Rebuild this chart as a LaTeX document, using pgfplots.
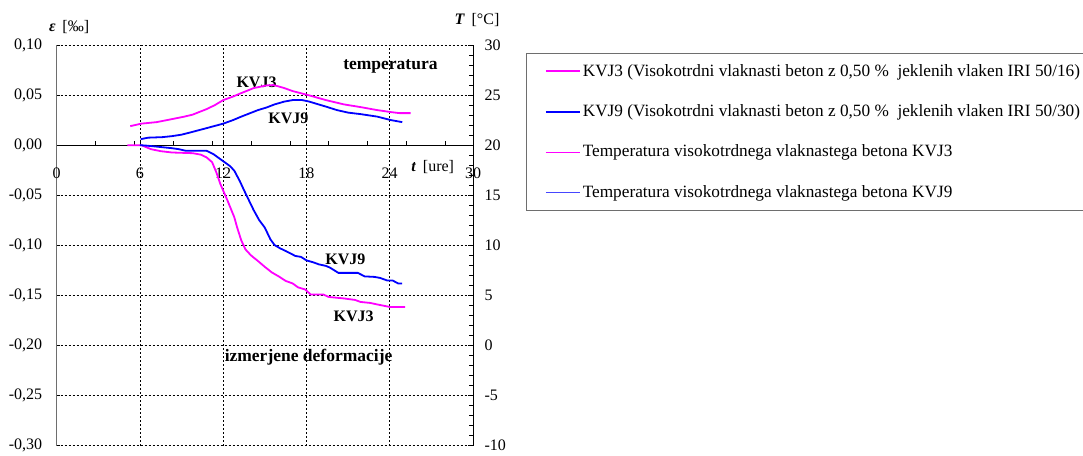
\documentclass[border=0pt]{standalone}
\usepackage{fontspec}
\setmainfont{Liberation Serif}
\usepackage{pgfplots}
\pgfplotsset{compat=1.18}
\definecolor{mag}{RGB}{255,0,255}
\definecolor{blu}{RGB}{0,0,255}
\definecolor{lblu}{RGB}{70,70,255}
\definecolor{axgray}{RGB}{110,110,110}
\newcommand{\tfont}{\fontsize{16}{19}\selectfont}
\newcommand{\lfont}{\fontsize{17.25}{20}\selectfont}

\begin{document}
\tfont
\begin{tikzpicture}
\useasboundingbox (0pt,0pt) rectangle (1083pt,455pt);
\begin{axis}[
  at={(56.7pt,9.3pt)}, anchor=south west,
  scale only axis, width=416.3pt, height=400.7pt,
  xmin=0, xmax=30, ymin=-0.3, ymax=0.1,
  axis x line=middle, axis y line=left,
  axis line style={-},
  x axis line style={black, line width=0.8pt},
  y axis line style={axgray, line width=0.9pt},
  hide obscured x ticks=false, hide obscured y ticks=false,
  xtick={0,6,12,18,24,30}, xticklabels={0,6,12,18,24,30},
  ytick={-0.3,-0.25,-0.2,-0.15,-0.1,-0.05,0,0.05,0.1},
  yticklabels={{-0,30},{-0,25},{-0,20},{-0,15},{-0,10},{-0,05},{0,00},{0,05},{0,10}},
  minor xtick={2.8,5.6,8.4,11.2,14,16.8,19.6,22.4,25.2,28},
  grid=major,
  major grid style={black, line width=0.6pt, dash pattern=on 2pt off 2pt},
  minor grid style={draw=none},
  tick align=inside,
  major tick length=3pt, minor tick length=4pt,
  tick style={black, line width=0.6pt},
  xticklabel style={font=\tfont, yshift=-17pt},
  yticklabel style={font=\tfont, xshift=-9pt},
  clip=false,
]
\addplot[mag, line width=1.8pt] coordinates {
(5.1,0) (6.1,0) (6.8,-0.004) (7.5,-0.006) (8.3,-0.0073) (9.8,-0.008) (10.4,-0.0095) (10.8,-0.0122) (11.2,-0.017)
(11.5,-0.027) (11.8,-0.039) (12.3,-0.055) (12.8,-0.072) (13.0,-0.082) (13.3,-0.095) (13.6,-0.104)
(14.0,-0.110) (14.5,-0.1156) (15.0,-0.1215) (15.5,-0.127) (16.0,-0.131) (16.5,-0.1355) (17.0,-0.138) (17.4,-0.142)
(17.9,-0.144) (18.3,-0.149) (19.2,-0.149) (19.6,-0.1515) (20.7,-0.153) (21.5,-0.1545) (21.9,-0.1565)
(22.6,-0.1575) (23.1,-0.159) (24.0,-0.1615) (25.1,-0.1615)
};
\addplot[blu, line width=1.8pt] coordinates {
(6.0,0) (6.5,-0.0005) (7.1,-0.0013) (8.3,-0.003) (8.8,-0.004) (9.3,-0.0056) (10.8,-0.0056) (11.3,-0.009)
(12.0,-0.016) (12.5,-0.021) (12.8,-0.0255) (13.2,-0.036) (13.5,-0.045) (14.2,-0.065) (14.6,-0.075) (15.0,-0.0824)
(15.4,-0.094) (15.7,-0.0997) (16.1,-0.103) (16.5,-0.1056) (17.2,-0.1106) (17.6,-0.1115) (18.0,-0.115)
(18.5,-0.117) (18.9,-0.119) (19.4,-0.1205) (19.7,-0.1223) (20.3,-0.1275) (21.7,-0.1275) (22.2,-0.131)
(22.9,-0.1315) (23.3,-0.1325) (23.8,-0.135) (24.2,-0.135) (24.6,-0.138) (24.9,-0.138)
};
\node[font=\bfseries\fontsize{17.5}{20}\selectfont] at (axis cs:24.05,0.079) {temperatura};
\node[font=\bfseries\fontsize{16}{19}\selectfont] at (axis cs:14.4,0.063) {KVJ3};
\node[font=\bfseries\fontsize{16}{19}\selectfont] at (axis cs:16.7,0.027) {KVJ9};
\node[font=\bfseries\fontsize{16}{19}\selectfont] at (axis cs:20.8,-0.114) {KVJ9};
\node[font=\bfseries\fontsize{16}{19}\selectfont] at (axis cs:21.4,-0.171) {KVJ3};
\node[font=\bfseries\fontsize{17.5}{20}\selectfont] at (axis cs:18.15,-0.2115) {izmerjene deformacije};
\node[font=\tfont] at (axis cs:27.1,-0.0215) {\textbf{\textit{t}}\, [ure]};
\node[font=\tfont] at (rel axis cs:0.03,1.045) {\textbf{\textit{ε}}\, [‰]};
\node[font=\tfont] at (rel axis cs:1.0096,1.062) {\textbf{\textit{T}}\, [°C]};
\end{axis}
\begin{axis}[
  at={(56.7pt,9.3pt)}, anchor=south west,
  scale only axis, width=416.3pt, height=400.7pt,
  xmin=0, xmax=30, ymin=-10, ymax=30,
  axis y line*=right, axis x line=none,
  axis line style={-},
  y axis line style={black, line width=0.8pt},
  ytick={-10,-5,0,5,10,15,20,25,30},
  yticklabels={-10,-5,0,5,10,15,20,25,30},
  minor y tick num=4,
  tick align=inside,
  major tick length=5pt, minor tick length=4pt,
  tick style={black, line width=0.6pt},
  yticklabel style={font=\tfont, xshift=6pt},
  clip=false,
  legend style={at={(1.1273,0.9808)}, anchor=north west,
    draw=axgray, line width=0.8pt,
    font=\lfont,
    row sep=22pt, inner xsep=8pt, inner ysep=9pt,
    cells={anchor=west}},
]
\addplot[mag, line width=1.8pt, forget plot] coordinates {
(5.3,21.9) (6.1,22.15) (7.2,22.3) (8.3,22.6) (9.2,22.85) (9.8,23.05) (10.8,23.6) (11.4,24.0) (12.0,24.5)
(12.7,24.85) (13.3,25.2) (14.2,25.7) (15.1,25.96) (15.6,26.0) (15.9,25.9) (16.4,25.7) (17.0,25.4)
(18.2,24.97) (19.4,24.5) (20.7,24.07) (21.9,23.8) (23.1,23.5) (24.1,23.3) (24.7,23.2) (25.5,23.2)
};
\addplot[blu, line width=1.8pt, forget plot] coordinates {
(6.05,20.6) (6.6,20.75) (7.6,20.8) (8.3,20.9) (9.0,21.05) (9.6,21.26) (10.8,21.7) (12.0,22.15) (12.7,22.5)
(13.3,22.85) (14.5,23.5) (15.1,23.75) (15.7,24.07) (16.4,24.35) (17.0,24.5) (17.7,24.5) (18.2,24.35)
(18.7,24.14) (19.4,23.85) (20.2,23.5) (21.0,23.25) (21.9,23.1) (23.1,22.85) (24.1,22.5) (24.9,22.3)
};
\addlegendimage{legend image code/.code={\path (0pt,0pt); \draw[mag, line width=2pt] (11pt,0pt) -- (45pt,0pt);}}
\addlegendentry{KVJ3 (Visokotrdni vlaknasti beton z 0,50 \%\ \ jeklenih vlaken IRI 50/16)}
\addlegendimage{legend image code/.code={\path (0pt,0pt); \draw[blu, line width=2pt] (11pt,0pt) -- (45pt,0pt);}}
\addlegendentry{KVJ9 (Visokotrdni vlaknasti beton z 0,50 \%\ \ jeklenih vlaken IRI 50/30)}
\addlegendimage{legend image code/.code={\path (0pt,0pt); \draw[mag, line width=1pt] (11pt,0pt) -- (45pt,0pt);}}
\addlegendentry{Temperatura visokotrdnega vlaknastega betona KVJ3}
\addlegendimage{legend image code/.code={\path (0pt,0pt); \draw[lblu, line width=1pt] (11pt,0pt) -- (45pt,0pt);}}
\addlegendentry{Temperatura visokotrdnega vlaknastega betona KVJ9}
\end{axis}
\end{tikzpicture}
\end{document}
